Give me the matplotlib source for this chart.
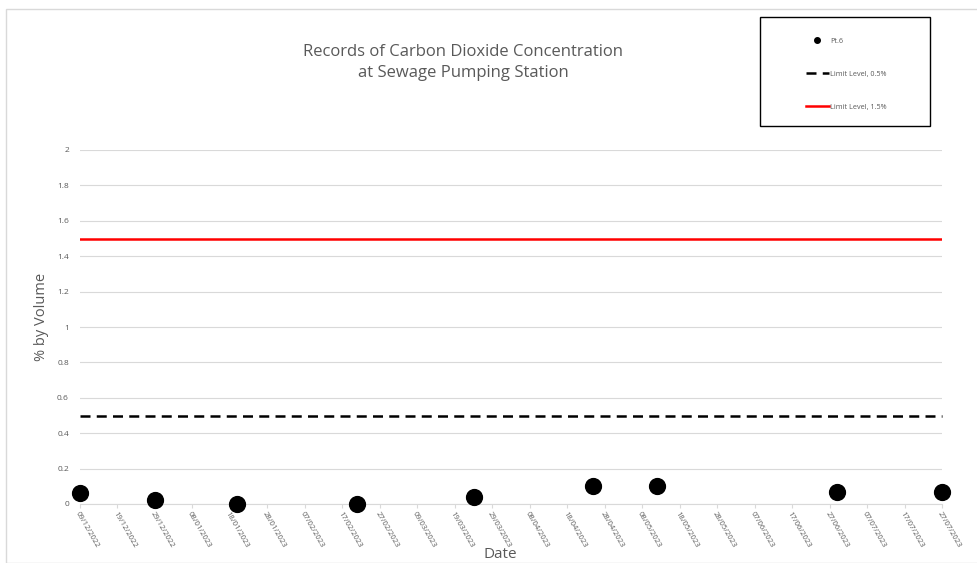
import matplotlib
matplotlib.use("Agg")
import matplotlib.pyplot as plt
from matplotlib.patches import Rectangle
from matplotlib.lines import Line2D
import pandas as pd

plt.rcParams['font.family'] = ['Open Sans', 'DejaVu Sans']

dates = ["2022-12-09", "2022-12-29", "2023-01-20", "2023-02-21", "2023-03-24",
         "2023-04-25", "2023-05-12", "2023-06-29", "2023-07-27"]
pt6 = [0.06, 0.02, 0.0, 0.0, 0.04, 0.10, 0.10, 0.07, 0.07]
limit_low = 0.5
limit_high = 1.5
tick_start = "2022-12-09"
tick_end = "2023-07-27"
tick_step_days = 10

x = pd.to_datetime(dates)
ticks = pd.date_range(tick_start, tick_end, freq=f"{tick_step_days}D")

fig = plt.figure(figsize=(9.77, 5.63), dpi=100)
ax = fig.add_axes([80/977, 1-504/563, (942-80)/977, (504-150)/563])

ax.set_xlim(ticks[0], ticks[-1])
ax.set_ylim(0, 2)
ax.set_yticks([0, 0.2, 0.4, 0.6, 0.8, 1.0, 1.2, 1.4, 1.6, 1.8, 2.0])
ax.set_yticklabels(["0", "0.2", "0.4", "0.6", "0.8", "1", "1.2", "1.4", "1.6", "1.8", "2"])
ax.set_xticks(ticks)
ax.set_xticklabels([t.strftime("%d/%m/%Y") for t in ticks], rotation=-60,
                   ha='left', va='top', rotation_mode='anchor')
ax.grid(axis='y', color='#d9d9d9', linewidth=0.8)
ax.set_axisbelow(True)
for s in ['top', 'right', 'left']:
    ax.spines[s].set_visible(False)
ax.spines['bottom'].set_color('#d9d9d9')
ax.tick_params(axis='y', length=0, labelsize=6, labelcolor='#595959', pad=8)
ax.tick_params(axis='x', length=3, color='#d9d9d9', labelsize=5.5, labelcolor='#595959', pad=2)

ax.axhline(limit_low, color='black', linestyle=(0, (4, 2.5)), linewidth=1.8, clip_on=False)
ax.axhline(limit_high, color='#ff0000', linewidth=1.8)
ax.scatter(x, pt6, s=130, color='black', zorder=3, clip_on=False)

ax.set_ylabel("% by Volume", fontsize=10.5, color='#595959')
ax.yaxis.set_label_coords(-0.036, 0.528)
ax.set_xlabel("Date", fontsize=11, color='#595959')
ax.xaxis.set_label_coords(0.488, -0.122)

fig.text(463/977, 1-52/563, "Records of Carbon Dioxide Concentration", ha='center', va='center',
         fontsize=12, color='#595959')
fig.text(463/977, 1-73/563, "at Sewage Pumping Station", ha='center', va='center',
         fontsize=12, color='#595959')

# outer frame
fig.patches.append(Rectangle((6/977, 0), 1, 1-9/563, transform=fig.transFigure,
                             fill=False, edgecolor='#d9d9d9', linewidth=1))
# legend box
fig.patches.append(Rectangle((760/977, 1-126/563), 170/977, 109/563, transform=fig.transFigure,
                             fill=False, edgecolor='black', linewidth=1))
handles = [Line2D([], [], marker='o', linestyle='none', color='black', markersize=4),
           Line2D([], [], color='black', linestyle=(0, (4, 2.5)), linewidth=1.8),
           Line2D([], [], color='#ff0000', linewidth=1.8)]
labels = ["Pt.6", "Limit Level, 0.5%", "Limit Level, 1.5%"]
fig.legend(handles, labels, loc='upper left', bbox_to_anchor=(802/977, 1-34/563),
           frameon=False, fontsize=5.2, labelcolor='#595959', labelspacing=3.6,
           handlelength=3.2, handletextpad=0.15, borderpad=0)

fig.savefig("out.png", dpi=100)
